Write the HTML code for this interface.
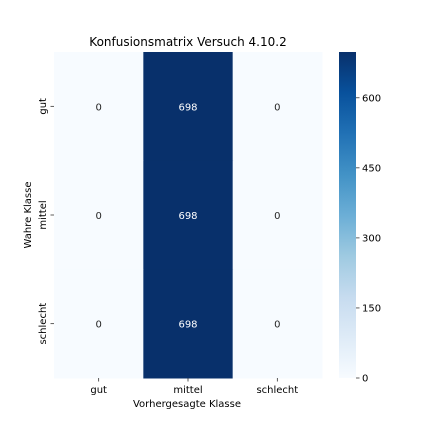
<!DOCTYPE html>
<html><head><meta charset="utf-8"><style>
html,body{margin:0;padding:0;background:#fff;}
svg{display:block;font-family:"DejaVu Sans","Liberation Sans",sans-serif;}
</style></head><body>
<svg id="chart" width="432" height="432" viewBox="0 0 432 432">
<defs>
<linearGradient id="cbgrad" x1="0" y1="1" x2="0" y2="0">
<stop offset="0" stop-color="#f7fbff"/><stop offset="0.125" stop-color="#deebf7"/>
<stop offset="0.25" stop-color="#c6dbef"/><stop offset="0.375" stop-color="#9ecae1"/>
<stop offset="0.5" stop-color="#6baed6"/><stop offset="0.625" stop-color="#4292c6"/>
<stop offset="0.75" stop-color="#2171b5"/><stop offset="0.875" stop-color="#08519c"/>
<stop offset="1" stop-color="#08306b"/></linearGradient>
</defs>
<text x="188" y="46" font-size="12" text-anchor="middle">Konfusionsmatrix Versuch 4.10.2</text>
<g id="cells"></g>
<g id="axes"></g>
<rect x="339" y="52" width="17" height="326" fill="url(#cbgrad)"/>
<g id="cbticks"></g>
<text x="187" y="407" font-size="10" text-anchor="middle">Vorhergesagte Klasse</text>
<text transform="translate(31,215) rotate(-90)" font-size="10" text-anchor="middle">Wahre Klasse</text>
</svg>
<script>
const classes = ["gut","mittel","schlecht"];
const matrix = [[0,698,0],[0,698,0],[0,698,0]];
const cbTicks = [0,150,300,450,600];
const vmin = 0, vmax = 698;
const X0=54, X1=322, Y0=52, Y1=378;
const NS="http://www.w3.org/2000/svg";
const stops=[[247,251,255],[222,235,247],[198,219,239],[158,202,225],[107,174,214],[66,146,198],[33,113,181],[8,81,156],[8,48,107]];
function color(v){let t=(v-vmin)/(vmax-vmin);t=Math.max(0,Math.min(1,t))*8;const i=Math.min(7,Math.floor(t)),f=t-i;
const c=stops[i].map((a,k)=>Math.round(a+(stops[i+1][k]-a)*f));return `rgb(${c})`;}
const cw=(X1-X0)/classes.length, ch=(Y1-Y0)/classes.length;
function xs(j){return X0+j*cw;} function ys(i){return Y0+i*ch;}
function cbY(v){return Y1-(v-vmin)/(vmax-vmin)*(Y1-Y0);}
function mk(tag,attrs,parent){const e=document.createElementNS(NS,tag);for(const k in attrs)e.setAttribute(k,attrs[k]);parent.appendChild(e);return e;}
const cells=document.getElementById("cells"), axes=document.getElementById("axes"), cbt=document.getElementById("cbticks");
matrix.forEach((row,i)=>row.forEach((v,j)=>{
 const r=mk("rect",{x:xs(j),y:ys(i),width:cw+0.5,height:ch+0.5,fill:color(v)},cells);
 
 
 const t=mk("text",{x:xs(j)+cw/2,y:ys(i)+ch/2+4,"font-size":"10","text-anchor":"middle",fill:(v-vmin)/(vmax-vmin)>0.5?"#fff":"#262626"},cells);
 t.textContent=v;
 
 
}));
classes.forEach((c,j)=>{
 const cx=xs(j)+cw/2;
 mk("line",{x1:cx,x2:cx,y1:Y1,y2:Y1+3.5,stroke:"#333","stroke-width":0.8},axes);
 const t=mk("text",{x:cx,y:Y1+15,"font-size":"10","text-anchor":"middle"},axes);
 t.textContent=c;
 
 
 const cy=ys(j)+ch/2;
 mk("line",{x1:X0-3.5,x2:X0,y1:cy,y2:cy,stroke:"#333","stroke-width":0.8},axes);
 const l=mk("text",{transform:`translate(${X0-8},${cy}) rotate(-90)`,"font-size":"10","text-anchor":"middle"},axes);
 l.textContent=c;
 
 
});
cbTicks.forEach(v=>{
 const y=cbY(v);
 mk("line",{x1:356,x2:359.5,y1:y,y2:y,stroke:"#333","stroke-width":0.8},cbt);
 const t=mk("text",{x:362,y:y+3.5,"font-size":"10"},cbt);
 t.textContent=v;
 
 
});
</script>
</body></html>
